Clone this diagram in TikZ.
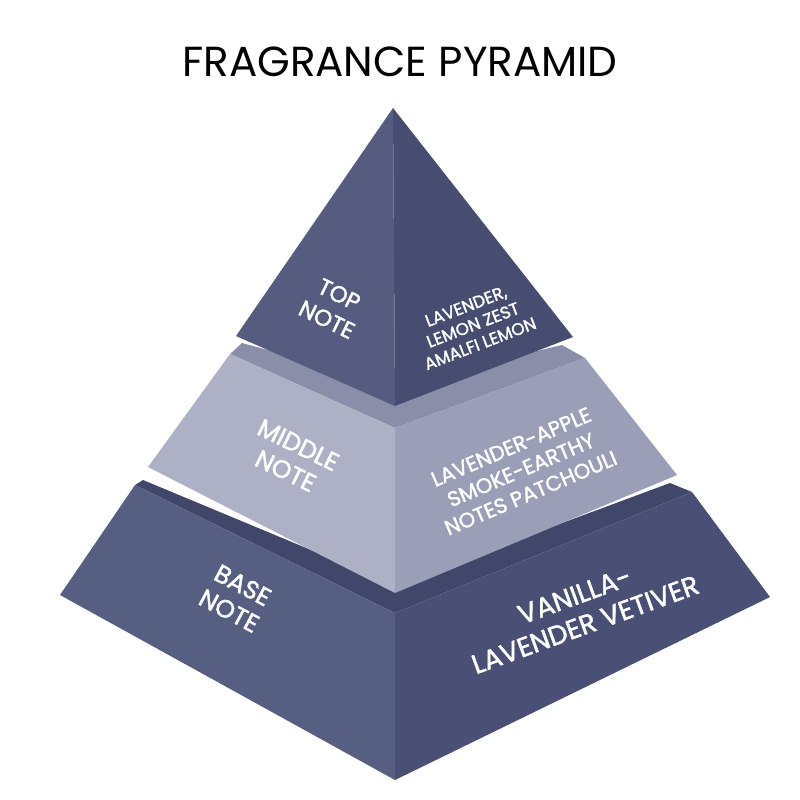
\documentclass[tikz,border=0pt]{standalone}
\usepackage{fontspec}
\setmainfont{Poppins}
\newfontfamily\notefont{Poppins}[FakeBold=1.6]
\usepackage{xcolor}

\definecolor{topL}{HTML}{555C7F}
\definecolor{topR}{HTML}{474D70}
\definecolor{midL}{HTML}{AEB1C5}
\definecolor{midR}{HTML}{9A9EB7}
\definecolor{midS}{HTML}{8A8EA8}
\definecolor{baseL}{HTML}{565E81}
\definecolor{baseR}{HTML}{4A5075}
\definecolor{baseS}{HTML}{41476A}

\begin{document}
\begin{tikzpicture}[x = 1pt, y = -1pt,
		notelabel/.style = {text = white, align = center, inner sep = 0pt, font = \notefont\fontsize{25}{29}\selectfont},
		leftface/.style = {notelabel, rotate = -26},
		rightface/.style = {notelabel, rotate = 21}]
		\useasboundingbox (0,0) rectangle (800,800);
		\node[font = \fontsize{42}{48}\selectfont] (title) at (400,62) {FRAGRANCE PYRAMID};
		% base tier
		\fill[baseS] (135,485) -- (143,480) -- (395,585) -- (670,483) -- (692,492) -- (395,613) -- cycle;
		\fill[baseL] (135,485) -- (395,613) -- (395,780) -- (60,595) -- cycle;
		\fill[baseR] (395,613) -- (692,492) -- (770,597) -- (395,780) -- cycle;
		% middle tier
		\fill[midS] (230,354) -- (242,343) -- (395,385) -- (562,345) -- (585,358) -- (395,428) -- cycle;
		\fill[midL] (230,354) -- (395,428) -- (395,593) -- (148,467) -- cycle;
		\fill[midR] (395,428) -- (585,358) -- (677,475) -- (395,593) -- cycle;
		% top tier
		\fill[topL] (393,108) -- (236,336) -- (395,406) -- cycle;
		\fill[topR] (393,108) -- (395,406) -- (573,337) -- cycle;
		% labels
		\node[leftface, font = \notefont\fontsize{23}{28}\selectfont] (topnote) at (333,307) {TOP\\NOTE};
		\node[rightface, font = \notefont\fontsize{17}{20}\selectfont] (topnotes) at (473,325) {LAVENDER,\\LEMON ZEST\\AMALFI LEMON};
		\node[leftface] (midnote) at (292,458) {MIDDLE\\NOTE};
		\node[rightface, rotate = 2, font = \notefont\fontsize{21}{25}\selectfont] (midnotes) at (521,470) {LAVENDER-APPLE\\SMOKE-EARTHY\\NOTES PATCHOULI};
		\node[leftface, rotate = -2] (basenote) at (236,598) {BASE\\NOTE};
		\node[rightface, rotate = -1, font = \notefont\fontsize{27}{31}\selectfont] (basenotes) at (580,610) {VANILLA-\\LAVENDER VETIVER};
	\end{tikzpicture}
\end{document}
